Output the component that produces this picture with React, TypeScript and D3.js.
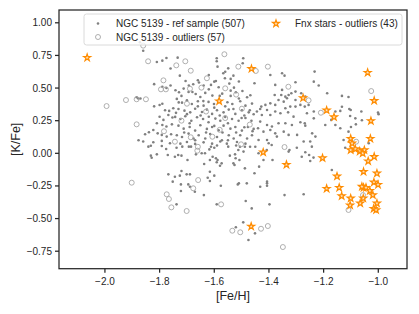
import React from 'react';
import * as d3 from 'd3';

// [Fe/H], [K/Fe] pairs
const refSample: [number, number][] = [
  // far left, upper
  [-1.872, 0.851], [-1.86, 0.786], [-1.81, 0.70], [-1.79, 0.71], [-1.775, 0.73], [-1.76, 0.65],
  [-1.82, 0.53], [-1.79, 0.51], [-1.775, 0.50], [-1.76, 0.52], [-1.884, 0.43], [-1.878, 0.42],
  [-1.87, 0.42], [-1.82, 0.36], [-1.80, 0.37], [-1.79, 0.38], [-1.78, 0.33], [-1.765, 0.325],
  [-1.75, 0.345], [-1.80, 0.28], [-1.786, 0.256], [-1.768, 0.294], [-1.753, 0.274], [-1.81, 0.23],
  [-1.79, 0.217], [-1.775, 0.205], [-1.755, 0.222], [-1.853, 0.146], [-1.839, 0.161], [-1.823, 0.179],
  [-1.807, 0.153], [-1.792, 0.141], [-1.774, 0.128], [-1.758, 0.146], [-1.877, 0.10], [-1.86, 0.09],
  [-1.823, 0.085], [-1.792, 0.095], [-1.762, 0.077],
  // far left, lower
  [-1.841, 0.051], [-1.832, 0.058], [-1.792, 0.056], [-1.776, 0.033], [-1.832, -0.018], [-1.829, -0.034],
  [-1.81, -0.008], [-1.77, -0.013], [-1.768, -0.161], [-1.752, -0.217],
  // dense core
  [-1.734, 0.733], [-1.591, 0.728], [-1.494, 0.728], [-1.588, 0.664], [-1.549, 0.651], [-1.567, 0.613],
  [-1.530, 0.595], [-1.594, 0.554], [-1.561, 0.575], [-1.453, 0.537], [-1.726, 0.595], [-1.705, 0.554],
  [-1.591, 0.705], [-1.496, 0.69], [-1.56, 0.625],
  [-1.693, 0.519], [-1.677, 0.529], [-1.656, 0.542], [-1.639, 0.519], [-1.612, 0.524], [-1.600, 0.549],
  [-1.584, 0.506], [-1.545, 0.534], [-1.528, 0.503], [-1.742, 0.483], [-1.729, 0.468], [-1.712, 0.496],
  [-1.694, 0.470], [-1.668, 0.455], [-1.651, 0.432], [-1.633, 0.463], [-1.607, 0.442], [-1.571, 0.457],
  [-1.540, 0.440], [-1.521, 0.468], [-1.497, 0.478], [-1.468, 0.445], [-1.737, 0.417], [-1.718, 0.388],
  [-1.700, 0.406], [-1.682, 0.378], [-1.660, 0.399], [-1.639, 0.365], [-1.621, 0.394], [-1.601, 0.378],
  [-1.583, 0.411], [-1.552, 0.391], [-1.534, 0.378], [-1.505, 0.399], [-1.486, 0.365], [-1.462, 0.381],
  [-1.731, 0.340], [-1.709, 0.327], [-1.688, 0.314], [-1.670, 0.342], [-1.645, 0.317], [-1.627, 0.335],
  [-1.608, 0.302], [-1.590, 0.330], [-1.566, 0.314], [-1.547, 0.335], [-1.523, 0.302], [-1.499, 0.330],
  [-1.474, 0.314], [-1.456, 0.299], [-1.743, 0.279], [-1.724, 0.263], [-1.706, 0.284], [-1.684, 0.250],
  [-1.663, 0.276], [-1.641, 0.263], [-1.621, 0.238], [-1.596, 0.266], [-1.578, 0.250], [-1.560, 0.279],
  [-1.535, 0.263], [-1.511, 0.250], [-1.486, 0.271], [-1.464, 0.250], [-1.731, 0.212], [-1.712, 0.189],
  [-1.690, 0.202], [-1.670, 0.174], [-1.651, 0.215], [-1.627, 0.187], [-1.608, 0.202], [-1.584, 0.176],
  [-1.566, 0.212], [-1.541, 0.189], [-1.523, 0.202], [-1.499, 0.174], [-1.477, 0.202], [-1.456, 0.187],
  [-1.737, 0.138], [-1.718, 0.125], [-1.694, 0.151], [-1.676, 0.113], [-1.657, 0.138], [-1.633, 0.113],
  [-1.615, 0.148], [-1.590, 0.125], [-1.572, 0.100], [-1.547, 0.138], [-1.529, 0.113], [-1.505, 0.138],
  [-1.480, 0.113], [-1.462, 0.138], [-1.724, 0.074], [-1.700, 0.087], [-1.670, 0.072], [-1.639, 0.084],
  [-1.608, 0.074], [-1.578, 0.090], [-1.554, 0.074], [-1.517, 0.087], [-1.486, 0.074],
  [-1.72, 0.44], [-1.70, 0.30], [-1.68, 0.47], [-1.66, 0.36], [-1.65, 0.29], [-1.64, 0.40],
  [-1.62, 0.49], [-1.62, 0.28], [-1.60, 0.21], [-1.60, 0.35], [-1.58, 0.44], [-1.58, 0.29],
  [-1.57, 0.16], [-1.56, 0.36], [-1.55, 0.23], [-1.54, 0.48], [-1.53, 0.34], [-1.52, 0.16],
  [-1.51, 0.42], [-1.50, 0.27], [-1.49, 0.20], [-1.48, 0.43], [-1.47, 0.33], [-1.46, 0.17],
  [-1.69, 0.23], [-1.71, 0.16], [-1.74, 0.31], [-1.73, 0.39], [-1.67, 0.10], [-1.63, 0.16],
  [-1.59, 0.06], [-1.55, 0.10], [-1.52, 0.06], [-1.49, 0.29], [-1.66, 0.56], [-1.62, 0.60],
  [-1.54, 0.57], [-1.51, 0.55],
  // middle, upper
  [-1.395, 0.600], [-1.352, 0.613], [-1.343, 0.595], [-1.303, 0.544], [-1.233, 0.626], [-1.236, 0.549],
  [-1.218, 0.519], [-1.187, 0.460], [-1.377, 0.524], [-1.352, 0.486], [-1.379, 0.447], [-1.355, 0.447],
  [-1.340, 0.434], [-1.328, 0.447], [-1.318, 0.460], [-1.365, 0.409], [-1.346, 0.396], [-1.334, 0.422],
  [-1.303, 0.473], [-1.282, 0.460], [-1.303, 0.409], [-1.267, 0.434], [-1.285, 0.371], [-1.269, 0.358],
  [-1.255, 0.371], [-1.261, 0.307], [-1.236, 0.320], [-1.322, 0.358], [-1.303, 0.358], [-1.340, 0.345],
  [-1.377, 0.371], [-1.395, 0.383], [-1.413, 0.371], [-1.428, 0.358], [-1.432, 0.340], [-1.444, 0.320],
  [-1.407, 0.332], [-1.426, 0.294], [-1.395, 0.294], [-1.377, 0.320], [-1.358, 0.307], [-1.330, 0.314],
  [-1.310, 0.281], [-1.285, 0.238], [-1.269, 0.230], [-1.267, 0.212], [-1.316, 0.217], [-1.340, 0.230],
  [-1.365, 0.230], [-1.389, 0.205], [-1.407, 0.217], [-1.432, 0.243], [-1.440, 0.192], [-1.420, 0.166],
  [-1.395, 0.179], [-1.377, 0.153], [-1.346, 0.166], [-1.328, 0.141], [-1.297, 0.141], [-1.242, 0.153],
  [-1.230, 0.128], [-1.273, 0.090], [-1.249, 0.090], [-1.438, 0.102], [-1.407, 0.102], [-1.401, 0.077],
  [-1.371, 0.128], [-1.236, 0.268], [-1.194, 0.217], [-1.172, 0.256], [-1.188, 0.332],
  // right, upper
  [-1.133, 0.44], [-1.109, 0.432], [-1.157, 0.32], [-1.139, 0.325], [-1.106, 0.34], [-1.101, 0.332],
  [-1.062, 0.32], [-1.001, 0.312], [-0.999, 0.30], [-1.103, 0.286], [-1.084, 0.268], [-1.06, 0.253],
  [-1.082, 0.222], [-1.1, 0.202], [-1.139, 0.192], [-1.157, 0.217], [-1.035, 0.077], [-1.109, 0.166],
  [-1.127, 0.102], [-1.133, 0.357], [-1.121, 0.043],
  // lower middle
  [-1.738, 0.043], [-1.717, 0.051], [-1.693, 0.051], [-1.685, 0.051], [-1.612, 0.05], [-1.60, 0.043],
  [-1.549, 0.051], [-1.506, 0.05], [-1.488, 0.05], [-1.469, 0.05], [-1.744, -0.026], [-1.732, -0.013],
  [-1.72, -0.018], [-1.698, -0.051], [-1.667, -0.008], [-1.646, 0.0], [-1.634, 0.0], [-1.618, 0.03],
  [-1.616, -0.051], [-1.594, -0.038], [-1.588, -0.051], [-1.591, -0.069], [-1.606, -0.026], [-1.579, -0.095],
  [-1.573, -0.077], [-1.543, -0.018], [-1.524, -0.008], [-1.522, -0.038], [-1.508, -0.051], [-1.53, -0.077],
  [-1.526, -0.089], [-1.488, -0.115], [-1.453, -0.153], [-1.72, -0.135], [-1.744, -0.179], [-1.726, -0.171],
  [-1.701, -0.161], [-1.689, -0.161], [-1.616, -0.141], [-1.624, -0.187], [-1.60, -0.171], [-1.616, -0.212],
  [-1.722, -0.238], [-1.695, -0.238], [-1.689, -0.256], [-1.722, -0.289], [-1.671, -0.294], [-1.576, -0.248],
  [-1.514, -0.238], [-1.51, -0.23], [-1.481, -0.23], [-1.638, -0.32], [-1.738, -0.391], [-1.591, -0.391],
  [-1.485, -0.365], [-1.463, -0.422], [-1.494, -0.529], [-1.521, -0.567], [-1.475, -0.664], [-1.637, -0.082],
  [-1.451, -0.613], [-1.512, 0.025], [-1.493, 0.013], [-1.438, 0.0], [-1.408, 0.025],
  // lower right
  [-1.298, 0.043], [-1.267, 0.008], [-1.243, 0.051], [-1.253, -0.013], [-1.325, 0.025], [-1.328, 0.013],
  [-1.28, -0.026], [-1.249, -0.059], [-1.237, -0.033], [-1.17, -0.128], [-1.42, -0.051], [-1.387, -0.051],
  [-1.436, -0.102], [-1.407, -0.217], [-1.407, -0.23], [-1.407, -0.248], [-1.432, -0.256], [-1.343, -0.32],
  [-1.273, -0.314], [-1.398, -0.391], [-1.39, 0.064], [-1.45, 0.05],
];

const ngcOutliers: [number, number][] = [
  [-1.86, 0.825], [-1.842, 0.705], [-1.739, 0.674], [-1.706, 0.705], [-1.686, 0.633], [-1.786, 0.559],
  [-1.795, 0.49], [-1.777, 0.49], [-1.689, 0.495], [-1.647, 0.503], [-1.627, 0.575], [-1.923, 0.408],
  [-1.884, 0.414], [-1.85, 0.414], [-1.994, 0.362], [-1.884, 0.222], [-1.784, 0.169], [-1.686, 0.123],
  [-1.744, 0.089], [-1.662, 0.02], [-1.563, 0.759], [-1.512, 0.664], [-1.56, 0.498], [-1.448, 0.631],
  [-1.404, 0.664], [-1.329, 0.51], [-1.255, 0.406], [-1.21, 0.311], [-1.026, 0.477], [-1.081, 0.089],
  [-1.499, 0.342], [-1.56, 0.27], [-1.607, 0.127], [-1.502, 0.069], [-1.343, 0.048], [-1.659, -0.205],
  [-1.677, -0.268], [-1.701, -0.442], [-1.575, -0.391], [-1.534, -0.593], [-1.505, -0.605], [-1.902, -0.225],
  [-1.774, -0.314], [-1.766, -0.35], [-1.757, -0.414], [-1.429, -0.578], [-1.404, -0.557], [-1.349, -0.718],
  [-1.109, -0.434], [-1.056, -0.32], [-1.72, 0.25], [-1.63, 0.32], [-1.58, 0.18], [-1.70, 0.38],
  [-1.52, 0.45], [-1.66, 0.05], [-1.47, 0.22],
];

const fnxOutliers: [number, number][] = [
  [-2.065, 0.733], [-1.464, 0.648], [-1.039, 0.618], [-1.582, 0.40], [-1.275, 0.424], [-1.015, 0.403],
  [-1.189, 0.33], [-1.162, 0.278], [-1.027, 0.248], [-1.421, 0.008], [-1.101, 0.112], [-1.029, 0.112],
  [-1.096, 0.077], [-1.101, 0.025], [-1.084, 0.033], [-1.068, 0.015], [-1.051, 0.025], [-1.057, 0.0],
  [-1.015, -0.026], [-1.204, -0.036], [-1.336, -0.087], [-1.151, -0.176], [-1.054, -0.141], [-1.005, -0.153],
  [-1.143, -0.263], [-1.189, -0.271], [-1.016, -0.222], [-1.001, -0.24], [-1.054, -0.263], [-1.045, -0.263],
  [-1.031, -0.287], [-1.02, -0.32], [-1.134, -0.327], [-1.101, -0.345], [-1.055, -0.345], [-1.066, -0.383],
  [-1.103, -0.398], [-1.005, -0.383], [-1.017, -0.424], [-1.008, -0.434], [-1.465, -0.56], [-1.037, -0.06],
  [-1.06, -0.255],
];

const xTicks = [-2.0, -1.8, -1.6, -1.4, -1.2, -1.0];
const yTicks = [-0.75, -0.5, -0.25, 0, 0.25, 0.5, 0.75, 1.0];
const legendLabels = ['NGC 5139 - ref sample (507)', 'NGC 5139 - outliers (57)', 'Fnx stars - outliers (43)'];

const W = 419;
const H = 314;
const margin = { top: 10, right: 12, bottom: 45.3, left: 59 };
const font = '"Liberation Sans", Arial, sans-serif';
const ink = '#262626';

const fmt = (d: number, digits: number) => d3.format(`.${digits}f`)(d).replace('-', '\u2212');

export default function App() {
  const x = d3.scaleLinear().domain([-2.168, -0.895]).range([margin.left, W - margin.right]);
  const y = d3.scaleLinear().domain([-0.884, 1.098]).range([H - margin.bottom, margin.top]);
  const star = d3.symbol().type(d3.symbolStar).size(15)();
  const [x0, x1] = x.range();
  const [y0, y1] = y.range();

  return (
    <svg width={W} height={H} style={{ position: 'absolute', left: 0, top: 0, fontFamily: font }}>
      <rect width={W} height={H} fill="#fff" />

      {/* ref sample */}
      {refSample.map((d, i) => (
        <circle key={`r${i}`} cx={x(d[0])} cy={y(d[1])} r={1.3} fill="#808080" />
      ))}

      {/* NGC outliers */}
      {ngcOutliers.map((d, i) => (
        <circle key={`o${i}`} cx={x(d[0])} cy={y(d[1])} r={2.5} fill="none" stroke="#a6a6a6" strokeWidth={0.9} />
      ))}

      {/* Fnx stars */}
      {fnxOutliers.map((d, i) => (
        <path key={`s${i}`} d={star!} transform={`translate(${x(d[0])},${y(d[1])})`}
          fill="#ffe2bd" stroke="#ff8c00" strokeWidth={1.2} />
      ))}

      {/* frame */}
      <rect x={x0} y={y1} width={x1 - x0} height={y0 - y1} fill="none" stroke={ink} strokeWidth={1.25} />

      {/* x axis */}
      {xTicks.map(t => (
        <g key={`xt${t}`} transform={`translate(${x(t)},${y0})`}>
          <line y2={4} stroke={ink} strokeWidth={1.25} />
          <text y={16} textAnchor="middle" fontSize={10} fill={ink}>{fmt(t, 1)}</text>
        </g>
      ))}
      {/* y axis */}
      {yTicks.map(t => (
        <g key={`yt${t}`} transform={`translate(${x0},${y(t)})`}>
          <line x2={-4} stroke={ink} strokeWidth={1.25} />
          <text x={-7} dy="0.35em" textAnchor="end" fontSize={10} fill={ink}>{fmt(t, 2)}</text>
        </g>
      ))}

      <text x={(x0 + x1) / 2} y={300} textAnchor="middle" fontSize={12.5} fill={ink}>[Fe/H]</text>
      <text transform={`translate(20,${(y0 + y1) / 2}) rotate(-90)`} textAnchor="middle" fontSize={12.5} fill={ink}>[K/Fe]</text>

      {/* legend */}
      <rect x={84} y={14} width={318} height={31} rx={2.5} fill="#fff" fillOpacity={0.8} stroke="#d0d0d0" strokeWidth={0.8} />
      <circle cx={98} cy={23.5} r={1.3} fill="#808080" />
      <text x={116} y={27} fontSize={10} fill={ink}>{legendLabels[0]}</text>
      <circle cx={98} cy={37} r={2.5} fill="none" stroke="#a6a6a6" strokeWidth={0.9} />
      <text x={116} y={40.5} fontSize={10} fill={ink}>{legendLabels[1]}</text>
      <path d={star!} transform="translate(276,23.5)" fill="#ffe2bd" stroke="#ff8c00" strokeWidth={1.2} />
      <text x={295} y={27} fontSize={10} fill={ink}>{legendLabels[2]}</text>
    </svg>
  );
}
